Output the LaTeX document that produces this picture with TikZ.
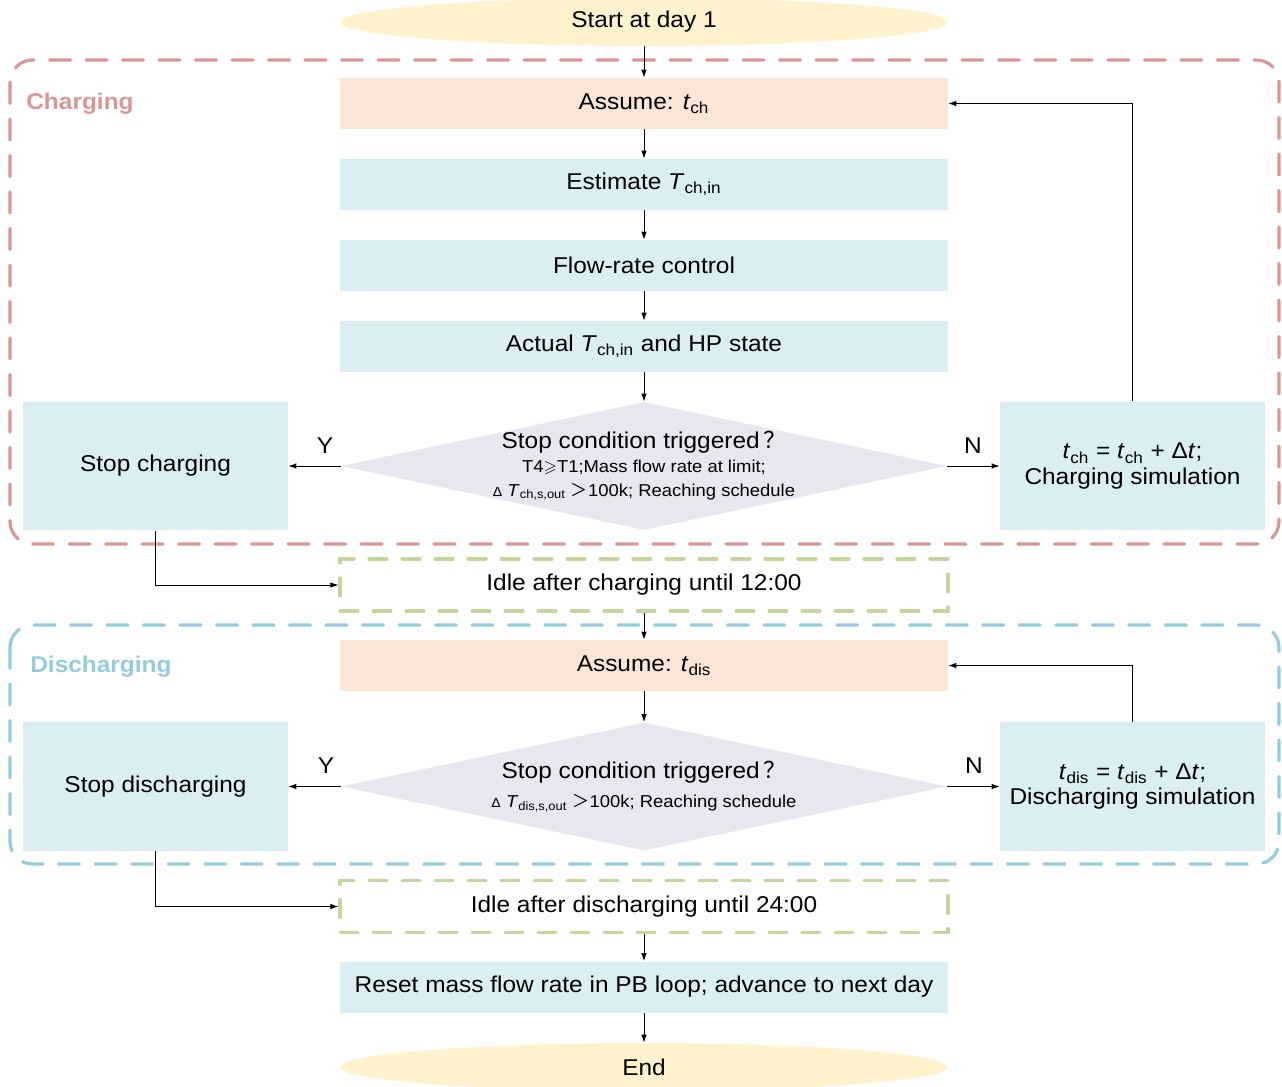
\documentclass[tikz,border=0pt]{standalone}
\usepackage{fontspec}
\usepackage{amssymb}
\setmainfont{Liberation Sans}[FakeStretch=1.07]
\newfontfamily\cjk{Noto Sans CJK SC}
\usetikzlibrary{shapes.geometric,arrows.meta}
\definecolor{startyel}{HTML}{FFF2CC}
\definecolor{peach}{HTML}{FBE5D6}
\definecolor{paleblue}{HTML}{DAEEF3}
\definecolor{lilac}{HTML}{E9E6EF}
\definecolor{chred}{HTML}{DA9694}
\definecolor{disblue}{HTML}{93CDDD}
\definecolor{idlegreen}{HTML}{C3D69B}
\newcommand\lo[1]{\textsubscript{#1}}
\newcommand\qmark{\,{\cjk ？}}
\newcommand\wgt{{\cjk ＞}}
\newcommand\boxw{12.16cm}
\newcommand\sidew{5.3cm}

\begin{document}
\begin{tikzpicture}[x=0.02cm,y=-0.02cm,font=\fontsize{13}{14.5}\selectfont,
  every node/.style={inner sep=0pt},
  term/.style={ellipse,fill=startyel,minimum width=\boxw,minimum height=0.96cm},
  assume/.style={rectangle,fill=peach,minimum width=\boxw,minimum height=1.02cm},
  proc/.style={rectangle,fill=paleblue,minimum width=\boxw,minimum height=1.02cm},
  side/.style={rectangle,fill=paleblue,minimum width=\sidew,minimum height=2.58cm,align=center},
  decide/.style={diamond,fill=lilac,minimum width=12.12cm,minimum height=2.56cm},
  idle/.style={rectangle,draw=idlegreen,line width=1.8pt,line cap=round,dash pattern=on 0.36cm off 0.3cm,minimum width=\boxw,minimum height=1.04cm},
  zone/.style={line width=1.8pt,line cap=round,dash pattern=on 0.42cm off 0.31cm,rounded corners=0.45cm},
  zonelabel/.style={anchor=west,font=\fontsize{13}{14}\selectfont\bfseries},
  arr/.style={-{Latex[length=1.6mm,width=1.1mm]},line width=0.5pt},
  small/.style={align=center,font=\fontsize{9.8}{13.5}\selectfont}]
\useasboundingbox (0,0) rectangle (1282,1086);
\draw[zone,draw=chred] (10,60) rectangle (1279,544);
\draw[zone,draw=disblue] (10,625) rectangle (1279,864);
\node[zonelabel,text=chred] (chlab) at (26,104) {Charging};
\node[zonelabel,text=disblue] (dislab) at (30,667) {Discharging};

\node[term] (start) at (644,22) {Start at day 1};
\node[assume] (asmc) at (644,103.5) {Assume: \textit{t}\lo{ch}};
\node[proc] (est) at (644,184.5) {Estimate \textit{T}\lo{ch,in}};
\node[proc] (flow) at (644,265.5) {Flow-rate control};
\node[proc] (act) at (644,346.5) {Actual \textit{T}\lo{ch,in} and HP state};
\node[decide] (stopq) at (644,466) {};
\node[small] (stopqtxt) at (stopq) {{\fontsize{13}{14}\selectfont Stop condition triggered\qmark}\\
  T4$\geqslant$T1;Mass flow rate at limit;\\
  {\fontsize{7.5}{9}\selectfont Δ} \textit{T}\lo{ch,s,out} \wgt100k; Reaching schedule};
\node[side] (stopc) at (155.5,466) {Stop charging};
\node[side] (stepc) at (1132.5,466) {\textit{t}\lo{ch} = \textit{t}\lo{ch} + Δ\textit{t};\\Charging simulation};
\node[idle] (idlec) at (644,585) {Idle after charging until 12:00};

\node[assume] (asmd) at (644,665.5) {Assume: \textit{t}\lo{dis}};
\node[decide] (stopqd) at (644,786.5) {};
\node[small] (stopqdtxt) at (stopqd) {{\fontsize{13}{14}\selectfont Stop condition triggered\qmark}\\[3pt]
  {\fontsize{7.5}{9}\selectfont Δ} \textit{T}\lo{dis,s,out} \wgt100k; Reaching schedule};
\node[side] (stopd) at (155.5,786.5) {Stop discharging};
\node[side] (stepd) at (1132.5,786.5) {\textit{t}\lo{dis} = \textit{t}\lo{dis} + Δ\textit{t};\\Discharging simulation};
\node[idle] (idled) at (644,906.5) {Idle after discharging until 24:00};
\node[proc] (reset) at (644,987) {Reset mass flow rate in PB loop; advance to next day};
\node[term] (end) at (644,1067) {End};

\draw[arr] (start.south) -- (asmc.north);
\draw[arr] (asmc) -- (est);
\draw[arr] (est) -- (flow);
\draw[arr] (flow) -- (act);
\draw[arr] (act) -- (stopq.north);
\draw[arr] (stopq.west) -- node[pos=.3,above=6.8pt]{Y} (stopc.east);
\draw[arr] (stopq.east) -- node[pos=.49,above=6.8pt]{N} (stepc.west);
\draw[arr] (stepc.north) |- (asmc.east);
\draw[arr] (stopc.south) |- (idlec.west);
\draw[arr] (idlec) -- (asmd);
\draw[arr] (asmd) -- (stopqd.north);
\draw[arr] (stopqd.west) -- node[pos=.28,above=7pt]{Y} (stopd.east);
\draw[arr] (stopqd.east) -- node[pos=.51,above=7pt]{N} (stepd.west);
\draw[arr] (stepd.north) |- (asmd.east);
\draw[arr] (stopd.south) |- (idled.west);
\draw[arr] (idled) -- (reset);
\draw[arr] (reset) -- (end);
\end{tikzpicture}
\end{document}
